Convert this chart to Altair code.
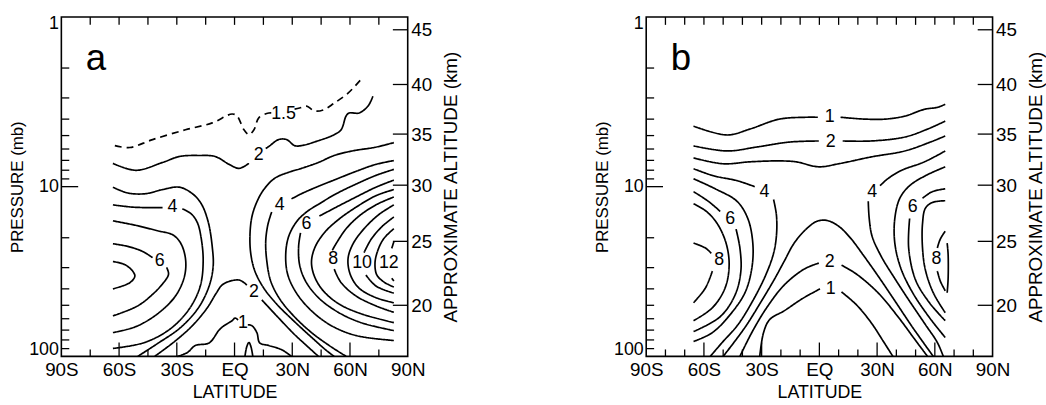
import altair as alt
import pandas as pd

FONT = "Liberation Sans"
W, H = 350, 343

# ---------------- axes values ----------------
LAT_TICKS = [-90, -60, -30, 0, 30, 60, 90]
LAT_LABELS = ["90S", "60S", "30S", "EQ", "30N", "60N", "90N"]
P_LABELS = [1, 10, 100]
P_MINOR = [2, 3, 4, 5, 6, 7, 8, 9, 20, 30, 40, 50, 60, 70, 80, 90]
P_MAJOR = [10]
ALT_KM = [20, 25, 30, 35, 40, 45]
ALT_P = [50, 21, 9.8, 4.9, 2.5, 1.19]

A_TOP_TICKS = [-75, -60, -45, -30, -15, 0, 15, 30, 45, 60, 75]
A_BOT_MAJOR = [-60, -30, 0, 30, 60]
A_BOT_MINOR = [-75, -45, -15, 15, 45, 75]
B_TOP_TICKS = [-80, -70, -60, -50, -40, -30, -20, -10, 0, 10, 20, 30, 40, 50, 60, 70, 80]
B_BOT_MAJOR = [-60, -30, 0, 30, 60]
B_BOT_MINOR = [-80, -70, -50, -40, -20, -10, 10, 20, 40, 50, 70, 80]

# ---------------- panel a contours ----------------
A15_S1_LAT = [-62.2, -54.4, -42.6, -25.5, -11.6, -1.3, 1.3, 4.9, 7.5, 10.1, 12.6, 17.8, 20.4]
A15_S1_P = [5.73, 5.88, 5.28, 4.62, 4.21, 3.73, 3.83, 4.62, 4.94, 4.62, 3.93, 3.68, 3.68]
A15_S2_LAT = [31.2, 33.8, 37.4, 41.5, 46.2, 51.8, 59.0, 65.8]
A15_S2_P = [3.49, 3.44, 3.35, 3.58, 3.53, 3.22, 2.81, 2.33]

A2T_S1_LAT = [-63.2, -51.3, -37.4, -28.6, -18.3, -10.1, -2.8, 2.3, 7.5]
A2T_S1_P = [7.29, 8.01, 7.20, 6.64, 6.55, 6.64, 7.39, 7.80, 7.29]
A2T_S2_LAT = [16.2, 17.8, 22.9, 27.1, 31.2, 34.8, 43.6, 51.8, 55.4, 58.0, 59.6, 64.7, 69.4, 71.9]
A2T_S2_P = [5.96, 5.80, 5.28, 5.28, 5.73, 5.73, 5.36, 4.94, 4.62, 3.83, 3.68, 3.68, 3.35, 2.93]

A3S_LAT = [-63.2, -55.4, -46.2, -37.4, -28.6, -21.9, -17.3, -13.7, -11.6, -11.1, -13.2, -18.8, -28.1, -40.0, -50.3]
A3S_P = [10.07, 10.9, 11.0, 10.4, 10.07, 11.0, 12.6, 16.1, 22.5, 29.5, 38.5, 51.8, 67.7, 84.0, 100]

A4S_S1_LAT = [-63.2, -52.9, -42.6, -37.4]
A4S_S1_P = [12.8, 13.2, 13.3, 13.3]
A4S_S2_LAT = [-27.1, -22.4, -19.3, -17.3, -16.3, -17.8, -23.5, -33.3, -46.7, -63.2]
A4S_S2_P = [13.5, 14.5, 16.3, 20.2, 27.6, 38.5, 52.5, 68.7, 82.8, 89.8]

A5S_LAT = [-63.2, -50.3, -40.0, -32.2, -28.1, -25.5, -26.0, -30.7, -40.0, -51.3, -63.2]
A5S_P = [15.9, 17.0, 18.2, 19.2, 21.4, 26.5, 33.7, 44.1, 56.1, 66.8, 72.4]

A6S_S1_LAT = [-63.2, -55.4, -47.7, -42.6]
A6S_S1_P = [21.7, 22.5, 24.1, 26.2]
A6S_S2_LAT = [-35.3, -34.3, -37.4, -42.6, -50.3, -63.2]
A6S_S2_P = [29.9, 32.8, 37.4, 43.1, 50.4, 57.7]

A7S_LAT = [-63.2, -57.0, -52.9, -51.8, -54.4, -63.2]
A7S_P = [27.6, 28.8, 31.5, 33.7, 36.8, 40.0]

A2A_S1_LAT = [-41.5, -31.2, -21.9, -14.2, -9.5, -6.5, -2.3, 2.8, 6.4]
A2A_S1_P = [100, 81.8, 65.9, 51.8, 42.4, 38.0, 36.0, 35.6, 38.0]
A2A_S2_LAT = [14.2, 21.9, 30.7, 37.4, 43.6]
A2A_S2_P = [46.5, 57.7, 73.4, 86.3, 100]

A1_S1_LAT = [-29.7, -24.5, -20.4, -13.2, -8.0, -5.4, -1.3, 0.3, 1.8]
A1_S1_P = [100, 94.9, 86.3, 83.3, 69.9, 65.9, 61.7, 59.4, 61.1]
A1_S2_LAT = [6.9, 9.0, 11.6, 13.1, 17.8, 24.5, 29.6]
A1_S2_P = [65.1, 65.9, 72.4, 83.3, 86.3, 91.4, 100]
A1_SMALL_LAT = [5.4, 6.4, 7.5, 8.5, 9.5]
A1_SMALL_P = [100, 87.4, 82.8, 87.4, 100]

A3N_LAT = [82.8, 72.5, 62.1, 51.8, 43.6, 34.8, 28.1, 20.9, 15.2, 11.6, 9.0, 8.0, 8.5, 10.6, 15.2, 21.9, 30.7, 40.0, 47.7, 51.8]
A3N_P = [5.50, 5.88, 6.13, 6.55, 7.20, 7.80, 8.23, 8.92, 10.4, 12.3, 15.1, 19.7, 25.1, 31.5, 39.6, 49.2, 61.7, 77.2, 92.2, 100]

A4N_S1_LAT = [82.8, 73.5, 63.2, 52.9, 42.5, 34.8, 29.6]
A4N_S1_P = [7.02, 7.39, 8.12, 9.03, 10.07, 11.0, 11.8]
A4N_S2_LAT = [19.3, 17.3, 16.2, 16.8, 18.8, 23.5, 30.7, 40.0, 49.2, 58.0]
A4N_S2_P = [14.1, 16.8, 21.1, 27.6, 36.0, 45.9, 57.7, 72.4, 86.3, 100]

A5N_LAT = [82.8, 73.5, 63.2, 52.9, 44.1, 37.4, 32.2, 28.1, 26.6, 27.6, 32.2, 40.0, 50.3, 63.2, 82.8]
A5N_P = [7.91, 8.58, 9.65, 11.0, 12.6, 14.1, 16.1, 19.7, 25.1, 32.8, 42.4, 53.9, 65.9, 75.4, 80.6]

A6N_S1_LAT = [82.8, 73.5, 63.2, 52.9, 44.1]
A6N_S1_P = [9.15, 10.07, 11.5, 13.2, 14.9]
A6N_S2_LAT = [34.3, 33.3, 33.8, 36.9, 43.6, 53.9, 65.8, 82.8]
A6N_S2_P = [18.7, 22.5, 28.8, 36.0, 45.1, 55.0, 63.3, 70.5]

A7N_LAT = [82.8, 73.5, 63.2, 54.4, 47.2, 42.0, 40.0, 41.5, 46.2, 54.4, 65.8, 82.8]
A7N_P = [10.4, 11.3, 13.2, 15.5, 18.4, 22.5, 27.6, 33.7, 41.2, 49.2, 56.1, 63.3]

A8N_S1_LAT = [82.8, 73.5, 64.7, 58.0, 53.4, 50.8]
A8N_S1_P = [11.5, 12.8, 14.9, 17.7, 21.1, 23.7]
A8N_S2_LAT = [51.8, 55.4, 63.2, 73.5, 82.8]
A8N_S2_P = [30.6, 36.8, 44.1, 50.4, 55.0]

A9N_LAT = [82.8, 75.0, 67.3, 61.6, 59.0, 60.1, 64.7, 73.5, 82.8]
A9N_P = [12.8, 14.6, 17.7, 21.7, 26.5, 32.8, 39.6, 45.1, 48.3]

A10N_S1_LAT = [82.8, 76.6, 70.9, 67.3]
A10N_S1_P = [15.1, 17.2, 20.5, 24.5]
A10N_S2_LAT = [68.3, 73.5, 82.8]
A10N_S2_P = [33.2, 38.5, 42.4]

A11N_LAT = [82.8, 77.6, 74.5, 73.0, 74.0, 78.2, 82.8]
A11N_P = [17.7, 20.2, 23.7, 28.2, 33.2, 36.8, 39.0]

A12N_S1_LAT = [82.8, 81.7]
A12N_S1_P = [21.1, 23.1]
A12N_S2_LAT = [81.7, 82.8]
A12N_S2_P = [34.6, 36.0]

A_LAB_TEXT = ["1.5", "2", "4", "6", "2", "1", "4", "6", "8", "10", "12"]
A_LAB_LAT = [25.5, 12.6, -32.2, -38.9, 10.1, 4.4, 23.5, 37.4, 51.3, 66.3, 80.2]
A_LAB_P = [3.73, 6.55, 13.2, 27.6, 41.8, 63.4, 12.8, 16.5, 26.8, 28.3, 28.3]

# ---------------- panel b contours ----------------
B1T_S1_LAT = [-65.4, -47.9, -36.2, -20.8, -6.9, -0.8]
B1T_S1_P = [4.40, 4.96, 4.58, 4.00, 3.90, 3.90]
B1T_S2_LAT = [11.0, 23.8, 34.1, 44.4, 54.6, 61.3, 65.4]
B1T_S2_P = [3.90, 4.00, 4.00, 3.84, 3.50, 3.41, 3.27]

B2T_S1_LAT = [-65.4, -47.9, -32.6, -15.6, -0.3]
B2T_S1_P = [5.75, 6.16, 5.84, 5.46, 5.38]
B2T_S2_LAT = [12.1, 26.9, 44.4, 56.2, 65.4]
B2T_S2_P = [5.38, 5.38, 5.10, 4.58, 4.11]

B3T_LAT = [-65.4, -50.0, -36.2, -20.8, -12.1, -0.3, 10.0, 26.9, 44.4, 57.7, 65.4]
B3T_P = [6.77, 7.33, 7.14, 7.05, 7.14, 7.64, 7.33, 6.68, 6.16, 5.46, 5.03]

B4S_S1_LAT = [-65.4, -55.1, -42.8, -33.6]
B4S_S1_P = [7.84, 8.62, 9.22, 10.0]
B4S_S2_LAT = [-23.8, -22.3, -22.3, -23.8, -27.9, -34.6, -42.3, -50.5, -56.7]
B4S_S2_P = [11.9, 14.8, 19.3, 24.7, 33.2, 47.0, 65.0, 82.8, 100]

B5S_LAT = [-65.4, -54.1, -42.8, -37.2, -34.6, -35.1, -38.7, -46.4, -55.6, -65.4]
B5S_P = [8.98, 10.3, 12.2, 15.4, 21.5, 30.2, 42.2, 56.8, 72.4, 81.7]

B6S_S1_LAT = [-65.4, -57.7, -51.5]
B6S_S1_P = [10.7, 12.2, 14.0]
B6S_S2_LAT = [-43.3, -41.3, -40.8, -43.8, -51.5, -65.4]
B6S_S2_P = [17.8, 23.0, 31.4, 43.4, 58.3, 71.4]

B7S_LAT = [-65.4, -58.7, -53.1, -48.5, -46.9, -49.0, -55.6, -65.4]
B7S_P = [12.6, 14.0, 16.5, 21.5, 29.0, 39.5, 51.7, 61.6]

B8S_S1_LAT = [-65.4, -59.2, -56.2]
B8S_S1_P = [21.5, 23.0, 24.7]
B8S_S2_LAT = [-55.6, -59.2, -65.4]
B8S_S2_P = [31.4, 39.5, 48.3]

B3A_LAT = [-50.0, -38.7, -30.0, -23.3, -18.2, -13.1, -6.9, -1.3, 3.8, 10.0, 16.2, 22.8, 30.5, 39.2, 48.5, 59.2]
B3A_P = [100, 67.6, 47.0, 35.0, 27.4, 21.5, 17.8, 16.0, 15.8, 17.1, 20.1, 25.3, 33.6, 47.0, 67.6, 100]

B2A_S1_LAT = [-41.3, -35.1, -27.4, -18.2, -7.9, -0.3]
B2A_S1_P = [100, 72.3, 51.7, 37.9, 30.6, 28.2]
B2A_S2_LAT = [11.5, 19.2, 30.5, 40.8, 50.0, 56.2]
B2A_S2_P = [29.0, 32.7, 42.2, 58.3, 80.6, 100]

B1A_S1_LAT = [-31.0, -29.0, -25.9, -18.2, -9.0, 0.3]
B1A_S1_P = [100, 72.3, 60.8, 53.8, 45.8, 40.0]
B1A_S2_LAT = [11.5, 19.2, 26.9, 33.6, 38.2]
B1A_S2_P = [41.7, 49.6, 63.3, 82.8, 100]

B4N_S1_LAT = [65.4, 54.6, 42.3, 35.6, 31.5]
B4N_S1_P = [6.16, 7.14, 8.05, 8.97, 9.87]
B4N_S2_LAT = [25.4, 25.9, 27.4, 32.1, 39.7, 47.4, 55.1, 61.3, 64.4]
B4N_S2_P = [12.2, 15.4, 19.6, 25.7, 35.5, 48.3, 65.0, 82.8, 100]

B5N_LAT = [65.4, 55.1, 46.9, 41.8, 39.2, 39.2, 42.3, 48.5, 57.2, 65.4]
B5N_P = [7.64, 8.62, 9.87, 11.7, 15.4, 21.5, 30.2, 42.2, 59.1, 77.4]

B6N_S1_LAT = [65.4, 58.7, 53.6]
B6N_S1_P = [10.3, 10.7, 11.7]
B6N_S2_LAT = [46.9, 46.4, 50.0, 57.2, 65.4]
B6N_S2_P = [15.4, 23.0, 35.5, 48.3, 61.6]

B7N_LAT = [65.4, 58.7, 55.1, 53.6, 53.6, 55.1, 59.2, 65.4]
B7N_P = [12.1, 12.4, 13.4, 16.5, 23.0, 31.0, 42.2, 55.3]

B8N_S1_LAT = [65.4, 62.8, 61.3]
B8N_S1_P = [18.3, 20.4, 23.0]
B8N_S2_LAT = [61.3, 62.8, 65.4]
B8N_S2_P = [31.4, 35.9, 41.1]

B9N_LAT = [66.4, 66.9, 66.9, 66.4]
B9N_P = [21.5, 25.0, 35.0, 42.2]

B_LAB_TEXT = ["1", "2", "4", "6", "8", "2", "1", "4", "6", "8"]
B_LAB_LAT = [5.4, 5.9, -28.5, -46.4, -52.1, 5.4, 5.9, 27.4, 48.5, 60.8]
B_LAB_P = [3.90, 5.46, 10.7, 15.6, 27.1, 27.8, 40.0, 10.7, 13.1, 26.7]

LETTER_LAT = -72
LETTER_P = 2.05

A_SEGS = [
    ("dash", A15_S1_LAT, A15_S1_P), ("dash", A15_S2_LAT, A15_S2_P),
    ("solid", A2T_S1_LAT, A2T_S1_P), ("solid", A2T_S2_LAT, A2T_S2_P),
    ("solid", A3S_LAT, A3S_P),
    ("solid", A4S_S1_LAT, A4S_S1_P), ("solid", A4S_S2_LAT, A4S_S2_P),
    ("solid", A5S_LAT, A5S_P),
    ("solid", A6S_S1_LAT, A6S_S1_P), ("solid", A6S_S2_LAT, A6S_S2_P),
    ("solid", A7S_LAT, A7S_P),
    ("solid", A2A_S1_LAT, A2A_S1_P), ("solid", A2A_S2_LAT, A2A_S2_P),
    ("solid", A1_S1_LAT, A1_S1_P), ("solid", A1_S2_LAT, A1_S2_P),
    ("solid", A1_SMALL_LAT, A1_SMALL_P),
    ("solid", A3N_LAT, A3N_P),
    ("solid", A4N_S1_LAT, A4N_S1_P), ("solid", A4N_S2_LAT, A4N_S2_P),
    ("solid", A5N_LAT, A5N_P),
    ("solid", A6N_S1_LAT, A6N_S1_P), ("solid", A6N_S2_LAT, A6N_S2_P),
    ("solid", A7N_LAT, A7N_P),
    ("solid", A8N_S1_LAT, A8N_S1_P), ("solid", A8N_S2_LAT, A8N_S2_P),
    ("solid", A9N_LAT, A9N_P),
    ("solid", A10N_S1_LAT, A10N_S1_P), ("solid", A10N_S2_LAT, A10N_S2_P),
    ("solid", A11N_LAT, A11N_P),
    ("solid", A12N_S1_LAT, A12N_S1_P), ("solid", A12N_S2_LAT, A12N_S2_P),
]

B_SEGS = [
    ("solid", B1T_S1_LAT, B1T_S1_P), ("solid", B1T_S2_LAT, B1T_S2_P),
    ("solid", B2T_S1_LAT, B2T_S1_P), ("solid", B2T_S2_LAT, B2T_S2_P),
    ("solid", B3T_LAT, B3T_P),
    ("solid", B4S_S1_LAT, B4S_S1_P), ("solid", B4S_S2_LAT, B4S_S2_P),
    ("solid", B5S_LAT, B5S_P),
    ("solid", B6S_S1_LAT, B6S_S1_P), ("solid", B6S_S2_LAT, B6S_S2_P),
    ("solid", B7S_LAT, B7S_P),
    ("solid", B8S_S1_LAT, B8S_S1_P), ("solid", B8S_S2_LAT, B8S_S2_P),
    ("solid", B3A_LAT, B3A_P),
    ("solid", B2A_S1_LAT, B2A_S1_P), ("solid", B2A_S2_LAT, B2A_S2_P),
    ("solid", B1A_S1_LAT, B1A_S1_P), ("solid", B1A_S2_LAT, B1A_S2_P),
    ("solid", B4N_S1_LAT, B4N_S1_P), ("solid", B4N_S2_LAT, B4N_S2_P),
    ("solid", B5N_LAT, B5N_P),
    ("solid", B6N_S1_LAT, B6N_S1_P), ("solid", B6N_S2_LAT, B6N_S2_P),
    ("solid", B7N_LAT, B7N_P),
    ("solid", B8N_S1_LAT, B8N_S1_P), ("solid", B8N_S2_LAT, B8N_S2_P),
    ("solid", B9N_LAT, B9N_P),
]


def seg_frame(segs):
    rows = []
    for i, (style, lats, ps) in enumerate(segs):
        for j, (la, pp) in enumerate(zip(lats, ps)):
            rows.append(dict(seg=i, ord=j, lat=la, p=pp, style=style))
    return pd.DataFrame(rows)


lat_expr = " : ".join(f"datum.value == {v} ? '{t}'" for v, t in zip(LAT_TICKS, LAT_LABELS)) + " : ''"
alt_expr = " : ".join(f"abs(datum.value - {p}) < 0.001 ? '{k}'" for p, k in zip(ALT_P, ALT_KM)) + " : ''"

xscale = alt.Scale(domain=[-90, 90], nice=False, zero=False)
yscale = alt.Scale(type="log", domain=[1, 100], reverse=True, nice=False)

X_AXIS = alt.Axis(values=LAT_TICKS, labelExpr=lat_expr, ticks=False, domain=False, grid=False,
                  title="LATITUDE", labelPadding=4, titlePadding=5, labelFontSize=19,
                  titleFontSize=18, labelFlush=False)
X = alt.X("lat:Q", scale=xscale, axis=X_AXIS)
LEFT_AXIS = alt.Axis(values=P_LABELS, format="d", ticks=False, domain=False, grid=False,
                     title="PRESSURE (mb)", labelPadding=3, titlePadding=2,
                     labelFontSize=18, titleFontSize=17, labelFlush=True, labelFlushOffset=2)
RIGHT_AXIS = alt.Axis(orient="right", values=ALT_P, labelExpr=alt_expr, ticks=False,
                      domain=False, grid=False, title="APPROXIMATE ALTITUDE (km)",
                      labelPadding=3, titlePadding=10, labelFontSize=19, titleFontSize=19,
                      titleAngle=270, titleBaseline="top")


def Y(axis=None):
    return alt.Y("p:Q", scale=yscale, axis=axis)


def panel(segs, lab_text, lab_lat, lab_p, letter, top_ticks, bot_major, bot_minor):
    lines = alt.Chart(seg_frame(segs)).mark_line(
        color="black", strokeWidth=1.7, interpolate="catmull-rom", strokeJoin="round"
    ).encode(
        x=X, y=Y(LEFT_AXIS), detail="seg:N", order="ord:Q",
        strokeDash=alt.StrokeDash("style:N", scale=alt.Scale(domain=["solid", "dash"],
                                  range=[[1, 0], [7, 5]]), legend=None),
    )
    labels = alt.Chart(pd.DataFrame({"t": lab_text, "lat": lab_lat, "p": lab_p})).mark_text(
        font=FONT, fontSize=18, color="black"
    ).encode(x=X, y=Y(), text="t:N")
    let = alt.Chart(pd.DataFrame({"t": [letter], "lat": [LETTER_LAT], "p": [LETTER_P]})).mark_text(
        font=FONT, fontSize=37, color="black", baseline="alphabetic"
    ).encode(x=X, y=Y(), text="t:N")
    top = alt.Chart(pd.DataFrame({"lat": top_ticks})).mark_rule(color="black", strokeWidth=1.3).encode(
        x=X, y=alt.value(0), y2=alt.value(8))
    bmaj = alt.Chart(pd.DataFrame({"lat": bot_major})).mark_rule(color="black", strokeWidth=1.3).encode(
        x=X, y=alt.value(H - 14), y2=alt.value(H))
    bmin = alt.Chart(pd.DataFrame({"lat": bot_minor})).mark_rule(color="black", strokeWidth=1.3).encode(
        x=X, y=alt.value(H - 7), y2=alt.value(H))
    lmin = alt.Chart(pd.DataFrame({"p": P_MINOR})).mark_rule(color="black", strokeWidth=1.3).encode(
        y=Y(), x=alt.value(0), x2=alt.value(8))
    lmaj = alt.Chart(pd.DataFrame({"p": P_MAJOR})).mark_rule(color="black", strokeWidth=1.3).encode(
        y=Y(), x=alt.value(0), x2=alt.value(17))
    right = alt.Chart(pd.DataFrame({"p": ALT_P})).mark_rule(color="black", strokeWidth=1.3).encode(
        y=Y(RIGHT_AXIS), x=alt.value(W - 15), x2=alt.value(W))
    return alt.layer(lines, labels, let, top, bmaj, bmin, lmin, lmaj, right).resolve_axis(
        y="independent").properties(width=W, height=H)


pa = panel(A_SEGS, A_LAB_TEXT, A_LAB_LAT, A_LAB_P, "a", A_TOP_TICKS, A_BOT_MAJOR, A_BOT_MINOR)
pb = panel(B_SEGS, B_LAB_TEXT, B_LAB_LAT, B_LAB_P, "b", B_TOP_TICKS, B_BOT_MAJOR, B_BOT_MINOR)

chart = alt.hconcat(pa, pb, spacing=133).properties(
    padding={"left": 8, "top": 12, "right": 0, "bottom": 0}, background="white"
).configure_view(stroke="black", strokeWidth=1.6).configure_axis(
    labelFont=FONT, titleFont=FONT, titleFontWeight="normal", labelColor="black", titleColor="black"
)

chart.save("out.html", embed_options={"renderer": "svg", "actions": False})
